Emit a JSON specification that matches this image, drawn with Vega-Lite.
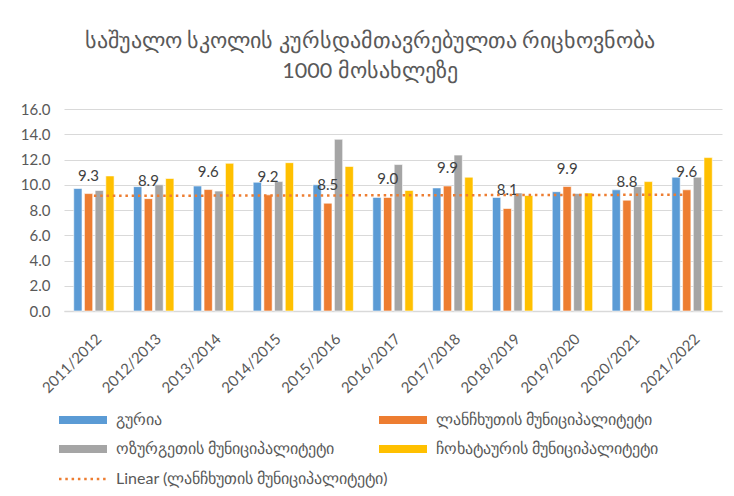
{
  "$schema": "https://vega.github.io/schema/vega-lite/v6.json",
  "autosize": {"type": "none"},
  "width": 658,
  "height": 202,
  "padding": {"left": 64, "top": 109, "right": 12, "bottom": 185},
  "background": "white",
  "title": {
    "text": ["საშუალო სკოლის კურსდამთავრებულთა რიცხოვნობა", "1000 მოსახლეზე"],
    "font": "Lato",
    "fontSize": 21.5,
    "fontWeight": "normal",
    "color": "#595959",
    "lineHeight": 30,
    "offset": 20,
    "dx": -23,
    "anchor": "middle"
  },
  "data": {
    "values": [
      {"year": "2011/2012", "series": "გურია", "value": 9.7},
      {"year": "2011/2012", "series": "ლანჩხუთის მუნიციპალიტეტი", "value": 9.3},
      {"year": "2011/2012", "series": "ოზურგეთის მუნიციპალიტეტი", "value": 9.55},
      {"year": "2011/2012", "series": "ჩოხატაურის მუნიციპალიტეტი", "value": 10.7},
      {"year": "2012/2013", "series": "გურია", "value": 9.85},
      {"year": "2012/2013", "series": "ლანჩხუთის მუნიციპალიტეტი", "value": 8.9},
      {"year": "2012/2013", "series": "ოზურგეთის მუნიციპალიტეტი", "value": 10.0},
      {"year": "2012/2013", "series": "ჩოხატაურის მუნიციპალიტეტი", "value": 10.5},
      {"year": "2013/2014", "series": "გურია", "value": 9.9},
      {"year": "2013/2014", "series": "ლანჩხუთის მუნიციპალიტეტი", "value": 9.62},
      {"year": "2013/2014", "series": "ოზურგეთის მუნიციპალიტეტი", "value": 9.5},
      {"year": "2013/2014", "series": "ჩოხატაურის მუნიციპალიტეტი", "value": 11.7},
      {"year": "2014/2015", "series": "გურია", "value": 10.2},
      {"year": "2014/2015", "series": "ლანჩხუთის მუნიციპალიტეტი", "value": 9.2},
      {"year": "2014/2015", "series": "ოზურგეთის მუნიციპალიტეტი", "value": 10.25},
      {"year": "2014/2015", "series": "ჩოხატაურის მუნიციპალიტეტი", "value": 11.75},
      {"year": "2015/2016", "series": "გურია", "value": 10.0},
      {"year": "2015/2016", "series": "ლანჩხუთის მუნიციპალიტეტი", "value": 8.54},
      {"year": "2015/2016", "series": "ოზურგეთის მუნიციპალიტეტი", "value": 13.6},
      {"year": "2015/2016", "series": "ჩოხატაურის მუნიციპალიტეტი", "value": 11.45},
      {"year": "2016/2017", "series": "გურია", "value": 9.0},
      {"year": "2016/2017", "series": "ლანჩხუთის მუნიციპალიტეტი", "value": 9.0},
      {"year": "2016/2017", "series": "ოზურგეთის მუნიციპალიტეტი", "value": 11.6},
      {"year": "2016/2017", "series": "ჩოხატაურის მუნიციპალიტეტი", "value": 9.55},
      {"year": "2017/2018", "series": "გურია", "value": 9.75},
      {"year": "2017/2018", "series": "ლანჩხუთის მუნიციპალიტეტი", "value": 9.9},
      {"year": "2017/2018", "series": "ოზურგეთის მუნიციპალიტეტი", "value": 12.35},
      {"year": "2017/2018", "series": "ჩოხატაურის მუნიციპალიტეტი", "value": 10.6},
      {"year": "2018/2019", "series": "გურია", "value": 9.0},
      {"year": "2018/2019", "series": "ლანჩხუთის მუნიციპალიტეტი", "value": 8.12},
      {"year": "2018/2019", "series": "ოზურგეთის მუნიციპალიტეტი", "value": 9.35},
      {"year": "2018/2019", "series": "ჩოხატაურის მუნიციპალიტეტი", "value": 9.15},
      {"year": "2019/2020", "series": "გურია", "value": 9.45},
      {"year": "2019/2020", "series": "ლანჩხუთის მუნიციპალიტეტი", "value": 9.86},
      {"year": "2019/2020", "series": "ოზურგეთის მუნიციპალიტეტი", "value": 9.3},
      {"year": "2019/2020", "series": "ჩოხატაურის მუნიციპალიტეტი", "value": 9.35},
      {"year": "2020/2021", "series": "გურია", "value": 9.6},
      {"year": "2020/2021", "series": "ლანჩხუთის მუნიციპალიტეტი", "value": 8.78},
      {"year": "2020/2021", "series": "ოზურგეთის მუნიციპალიტეტი", "value": 9.85},
      {"year": "2020/2021", "series": "ჩოხატაურის მუნიციპალიტეტი", "value": 10.25},
      {"year": "2021/2022", "series": "გურია", "value": 10.6},
      {"year": "2021/2022", "series": "ლანჩხუთის მუნიციპალიტეტი", "value": 9.6},
      {"year": "2021/2022", "series": "ოზურგეთის მუნიციპალიტეტი", "value": 10.6},
      {"year": "2021/2022", "series": "ჩოხატაურის მუნიციპალიტეტი", "value": 12.15}
    ]
  },
  "encoding": {
    "x": {
      "field": "year",
      "type": "nominal",
      "scale": {"paddingInner": 0.325, "paddingOuter": 0.1625},
      "axis": {
        "title": null,
        "labelAngle": -45,
        "labelFont": "Lato",
        "labelFontSize": 15,
        "labelColor": "#595959",
        "labelPadding": 20,
        "ticks": false,
        "domainColor": "#d9d9d9",
        "domainWidth": 1.5,
        "grid": false
      }
    },
    "y": {
      "field": "value",
      "type": "quantitative",
      "scale": {"domain": [0, 16], "nice": false},
      "axis": {
        "title": null,
        "values": [0, 2, 4, 6, 8, 10, 12, 14, 16],
        "format": ".1f",
        "labelFont": "Lato",
        "labelFontSize": 15,
        "labelColor": "#595959",
        "labelPadding": 14,
        "domain": false,
        "ticks": false,
        "gridColor": "#d9d9d9",
        "gridWidth": 1.2
      }
    }
  },
  "layer": [
    {
      "mark": {"type": "bar", "stroke": "white", "strokeWidth": 0.6},
      "encoding": {
        "xOffset": {
          "field": "series",
          "type": "nominal",
          "scale": {
            "domain": ["გურია", "ლანჩხუთის მუნიციპალიტეტი", "ოზურგეთის მუნიციპალიტეტი", "ჩოხატაურის მუნიციპალიტეტი"],
            "paddingInner": 0.224,
            "paddingOuter": 0
          }
        },
        "color": {
          "field": "series",
          "type": "nominal",
          "scale": {
            "domain": ["გურია", "ლანჩხუთის მუნიციპალიტეტი", "ოზურგეთის მუნიციპალიტეტი", "ჩოხატაურის მუნიციპალიტეტი"],
            "range": ["#5B9BD5", "#ED7D31", "#A5A5A5", "#FFC000"]
          },
          "legend": {
            "title": null,
            "orient": "none",
            "direction": "horizontal",
            "legendX": 11,
            "legendY": 303,
            "columns": 2,
            "columnPadding": 44,
            "rowPadding": 13,
            "symbolType": "M-6,-1H6V1H-6Z",
            "symbolSize": 64,
            "symbolStrokeWidth": 0,
            "labelOffset": 25,
            "labelFont": "Lato",
            "labelFontSize": 16,
            "labelColor": "#595959",
            "labelLimit": 400
          }
        }
      }
    },
    {
      "transform": [{"filter": "datum.series === 'ლანჩხუთის მუნიციპალიტეტი'"}],
      "mark": {"type": "text", "baseline": "alphabetic", "dy": -13, "font": "Lato", "fontSize": 15, "color": "#404040"},
      "encoding": {
        "xOffset": {"field": "series", "type": "nominal"},
        "text": {"field": "value", "type": "quantitative", "format": ".1f"}
      }
    },
    {
      "transform": [
        {"filter": "datum.series === 'ლანჩხუთის მუნიციპალიტეტი'"},
        {"calculate": "toNumber(substring(datum.year, 0, 4))", "as": "t"},
        {"regression": "value", "on": "t", "method": "linear"},
        {"calculate": "datum.t + '/' + (datum.t + 1)", "as": "year"}
      ],
      "mark": {"type": "line", "color": "#ED7D31", "strokeWidth": 2.5, "strokeCap": "butt"},
      "encoding": {
        "strokeDash": {
          "datum": "Linear (ლანჩხუთის მუნიციპალიტეტი)",
          "scale": {"range": [[2.5, 3.8]]},
          "legend": {
            "title": null,
            "orient": "none",
            "legendX": 11,
            "legendY": 362,
            "symbolType": "M-6,0H6",
            "symbolSize": 64,
            "symbolStrokeColor": "#ED7D31",
            "symbolStrokeWidth": 2.5,
            "labelOffset": 25,
            "labelFont": "Lato",
            "labelFontSize": 16,
            "labelColor": "#595959",
            "labelLimit": 400
          }
        }
      }
    }
  ],
  "config": {
    "view": {"stroke": null}
  }
}
